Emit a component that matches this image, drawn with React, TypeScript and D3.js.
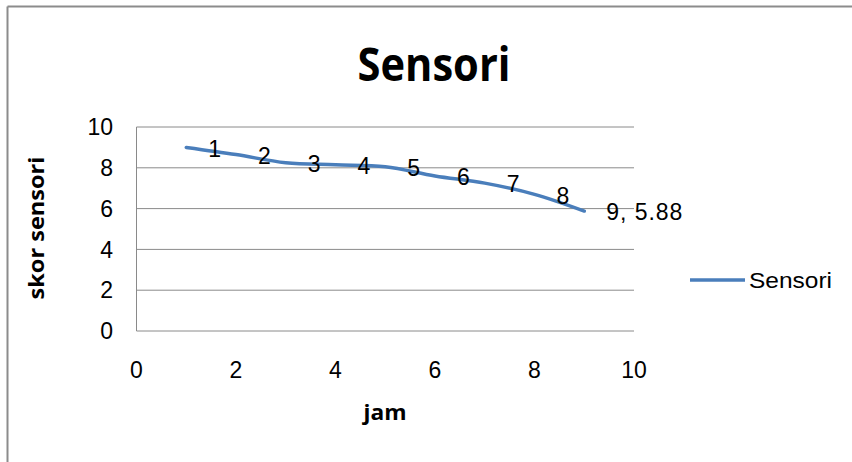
import React from 'react';
import * as d3 from 'd3';

const jam = [1, 2, 3, 4, 5, 6, 7, 8, 9];
const skor = [9.0, 8.65, 8.25, 8.15, 8.05, 7.6, 7.25, 6.7, 5.88];
const pointLabels = ['1', '2', '3', '4', '5', '6', '7', '8', '9, 5.88'];
const xTicks = [0, 2, 4, 6, 8, 10];
const yTicks = [0, 2, 4, 6, 8, 10];
const seriesName = 'Sensori';

const W = 852;
const H = 462;
const blue = '#4a7ebb';
const grid = '#8a8a8a';
const font = "'Liberation Sans', Arial, sans-serif";
const boldFont = "'Open Sans', 'Noto Sans', sans-serif";

const App: React.FC = () => {
  const x = d3.scaleLinear().domain([0, 10]).range([136.5, 634]);
  const y = d3.scaleLinear().domain([0, 10]).range([331, 127]);

  const pts = jam.map((d, i) => [d, skor[i]] as [number, number]);
  const line = d3
    .line<[number, number]>()
    .x(d => x(d[0]))
    .y(d => y(d[1]))
    .curve(d3.curveCatmullRom.alpha(0.5));

  return (
    <svg
      width={W}
      height={H}
      style={{ position: 'absolute', left: 0, top: 0, background: '#fff' }}
    >
      {/* chart frame (right/bottom edges cropped) */}
      <line x1={7.5} y1={6.5} x2={W} y2={6.5} stroke="#8c8c8c" strokeWidth={2} />
      <line x1={7.5} y1={6.5} x2={7.5} y2={H} stroke="#8c8c8c" strokeWidth={2} />

      <text
        x={434}
        y={81}
        textAnchor="middle"
        fontFamily={boldFont}
        fontWeight="bold"
        fontSize={47}
        textLength={153}
        lengthAdjust="spacingAndGlyphs"
        fill="#000"
      >
        Sensori
      </text>

      {/* gridlines */}
      {yTicks.map(t => (
        <line key={t} x1={x(0)} x2={x(10)} y1={y(t)} y2={y(t)} stroke={grid} strokeWidth={1} />
      ))}
      <line x1={x(0)} x2={x(0)} y1={y(0)} y2={y(10)} stroke={grid} strokeWidth={1} />

      {/* y tick labels */}
      {yTicks.map(t => (
        <text
          key={t}
          x={113}
          y={y(t)}
          dy="0.36em"
          textAnchor="end"
          fontFamily={font}
          fontSize={23}
          fill="#000"
        >
          {t}
        </text>
      ))}

      {/* x tick labels */}
      {xTicks.map(t => (
        <text
          key={t}
          x={x(t)}
          y={378}
          textAnchor="middle"
          fontFamily={font}
          fontSize={23}
          fill="#000"
        >
          {t}
        </text>
      ))}

      {/* axis titles */}
      <text
        transform={`translate(44,228) rotate(-90)`}
        textAnchor="middle"
        fontFamily={boldFont}
        fontWeight="bold"
        fontSize={21}
        textLength={143}
        lengthAdjust="spacingAndGlyphs"
        fill="#000"
      >
        skor sensori
      </text>
      <text
        x={385}
        y={420}
        textAnchor="middle"
        fontFamily={boldFont}
        fontWeight="bold"
        fontSize={22}
        textLength={43}
        lengthAdjust="spacingAndGlyphs"
        fill="#000"
      >
        jam
      </text>

      {/* series */}
      <path d={line(pts) ?? ''} fill="none" stroke={blue} strokeWidth={3.5} strokeLinecap="round" />

      {/* data labels */}
      {pts.map((p, i) => (
        <text
          key={i}
          x={x(p[0]) + 22}
          y={y(p[1]) + 1}
          dy="0.36em"
          fontFamily={font}
          fontSize={23}
          textLength={i === pts.length - 1 ? 76 : undefined}
          lengthAdjust="spacing"
          fill="#000"
        >
          {pointLabels[i]}
        </text>
      ))}

      {/* legend */}
      <line x1={690} x2={745} y1={280} y2={280} stroke={blue} strokeWidth={3.5} />
      <text
        x={749}
        y={280}
        dy="0.36em"
        fontFamily={font}
        fontSize={22}
        textLength={83}
        lengthAdjust="spacingAndGlyphs"
        fill="#000"
      >
        {seriesName}
      </text>
    </svg>
  );
};

export default App;
